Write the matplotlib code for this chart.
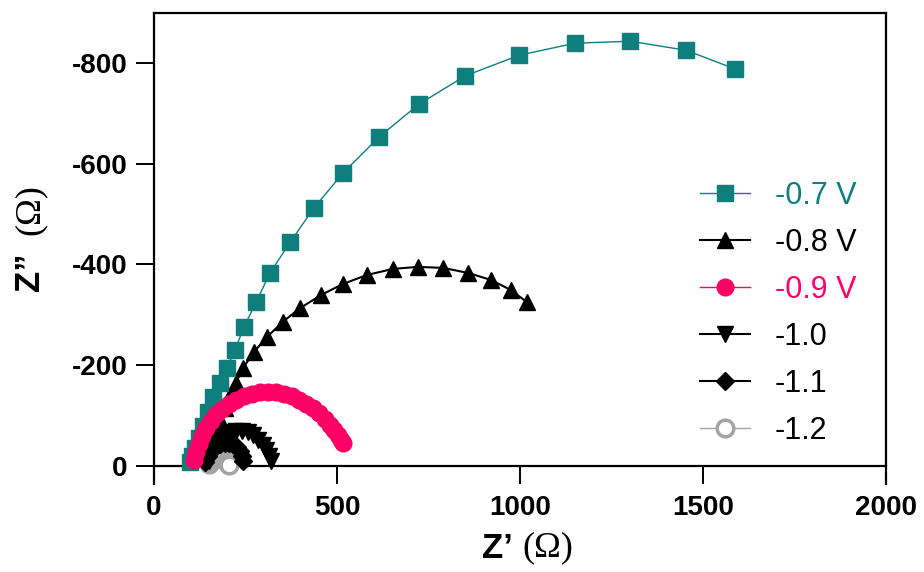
import matplotlib
matplotlib.use('Agg')
import matplotlib.pyplot as plt

plt.rcParams['axes.unicode_minus'] = False
SANS = ['Liberation Sans', 'DejaVu Sans']
SERIF = ['Liberation Serif', 'DejaVu Serif']

# ---------------- data ----------------
labels = ['-0.7 V', '-0.8 V', '-0.9 V', '-1.0', '-1.1', '-1.2']

x07 = [98, 104, 112, 123, 134, 148, 161, 180, 199, 221, 246, 279, 317, 372, 437,
       516, 615, 724, 850, 997, 1150, 1301, 1454, 1587]
y07 = [-8, -20, -36, -56, -79, -107, -137, -165, -194, -230, -276, -325, -383, -444, -512,
       -581, -653, -718, -774, -815, -839, -843, -825, -788]

x08 = [126, 139, 153, 167, 180, 194, 208, 224, 243, 273, 309, 352, 399, 456, 516,
       582, 653, 721, 790, 858, 921, 975, 1019]
y08 = [-16, -28, -46, -67, -91, -115, -141, -165, -194, -226, -256, -286, -313, -339, -361,
       -379, -391, -395, -393, -383, -369, -349, -325]

x09 = [110, 115, 122, 131, 142, 155, 170, 187, 205, 225, 246, 268, 290, 312, 334, 356,
       377, 397, 416, 434, 451, 466, 480, 492, 502, 510, 516]
y09 = [-12, -28, -44, -60, -75, -89, -102, -113, -123, -131, -138, -143, -146, -147, -146, -143,
       -138, -131, -123, -114, -104, -93, -82, -71, -61, -52, -45]

x10 = [150, 158, 168, 180, 194, 209, 224, 240, 256, 271, 285, 297, 307, 315, 320]
y10 = [-10, -26, -40, -52, -61, -67, -70, -70, -67, -61, -52, -42, -31, -20, -9]

x11 = [140, 148, 157, 168, 180, 193, 205, 216, 226, 234, 240, 244]
y11 = [-8, -19, -29, -37, -43, -46, -46, -43, -37, -29, -20, -10]

x12 = [150, 154, 158, 162, 166, 170, 174, 178, 182, 186, 190, 194, 198, 201, 204]
y12 = [-4, -8, -11, -14, -16, -17, -18, -18, -18, -17, -15, -12, -9, -6, -2]

xticks = [0, 500, 1000, 1500, 2000]
xtick_labels = ['0', '500', '1000', '1500', '2000']
yticks = [0, -200, -400, -600, -800]
ytick_labels = ['0', '-200', '-400', '-600', '-800']

TEAL = '#0f7f7d'
PINK = '#ff0066'
GRAY = '#a4a4a4'

# ---------------- figure ----------------
fig = plt.figure(figsize=(9.24, 5.72), dpi=100)
ax = fig.add_axes([154 / 924, 1 - 484 / 572, (886 - 154) / 924, (484 - 13) / 572])

h08, = ax.plot(x08, y08, color='black', lw=1.5, marker='^', ms=12, zorder=2)
h07, = ax.plot(x07, y07, color=TEAL, lw=1.0, marker='s', ms=12, mec=TEAL, zorder=3)
h12, = ax.plot(x12, y12, color=GRAY, lw=1.0, marker='o', ms=12, mfc='white',
               mec=GRAY, mew=2.5, zorder=3.5)
h10, = ax.plot(x10, y10, color='black', lw=1.5, marker='v', ms=12, zorder=4)
h11, = ax.plot(x11, y11, color='black', lw=1.5, marker='D', ms=9, zorder=4.5)
h09, = ax.plot(x09, y09, color=PINK, lw=1.0, marker='o', ms=12, mec=PINK, zorder=5)

ax.set_xlim(0, 2000)
ax.set_ylim(36, -899)
ax.spines['bottom'].set_position(('data', 0))
for sp in ax.spines.values():
    sp.set_linewidth(1.6)
ax.set_xticks(xticks)
ax.set_xticklabels(xtick_labels)
ax.set_yticks(yticks)
ax.set_yticklabels(ytick_labels)
ax.tick_params(direction='out', length=13, width=1.4, labelsize=20)
ax.tick_params(axis='x', pad=8)
ax.tick_params(axis='y', pad=6)
for t in ax.get_xticklabels() + ax.get_yticklabels():
    t.set_fontfamily(SANS)
    t.set_fontweight('bold')

handles = [h07, h08, h09, h10, h11, h12]
colors = [TEAL, 'black', PINK, 'black', 'black', 'black']
leg = ax.legend(handles, labels, loc='upper left',
                bbox_to_anchor=(700 / 924, 1 - 181 / 572), bbox_transform=fig.transFigure,
                frameon=False, borderpad=0, borderaxespad=0, handlelength=1.65,
                handletextpad=0.8, labelspacing=0.555,
                prop=dict(family=SANS, size=22))
for t, c in zip(leg.get_texts(), colors):
    t.set_color(c)

# axis labels (bold sans Z, serif Omega)
fig.text(497 / 924, 1 - 548 / 572, 'Z\u2019', ha='center', va='center',
         fontsize=25, fontweight='bold', family=SANS)
fig.text(548 / 924, 1 - 548 / 572, '(\u03a9)', ha='center', va='center',
         fontsize=26, family=SERIF)
fig.text(30 / 924, 1 - 272 / 572, 'Z\u201d', ha='center', va='center', rotation=90,
         fontsize=25, fontweight='bold', family=SANS)
fig.text(30 / 924, 1 - 210 / 572, '(\u03a9)', ha='center', va='center', rotation=90,
         fontsize=26, family=SERIF)

fig.savefig('out.png', dpi=100)
